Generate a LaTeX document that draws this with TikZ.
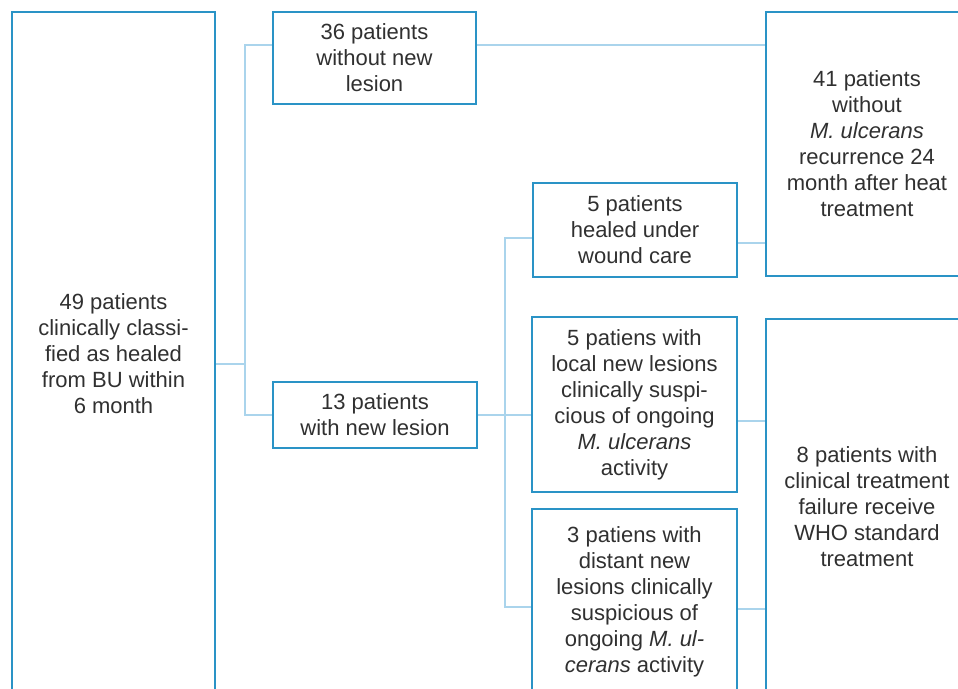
\documentclass[tikz,border=0pt]{standalone}
\usepackage{fontspec}
\setmainfont{Liberation Sans}
\definecolor{boxblue}{HTML}{2A93C6}
\definecolor{connblue}{HTML}{AAD4EC}
\definecolor{txt}{HTML}{303030}
\begin{document}
\begin{tikzpicture}[x=1pt,y=-1pt,
  box/.style={draw=boxblue, line width=2.6pt, inner sep=0pt, align=center,
    text=txt, font=\fontsize{22}{26}\selectfont},
  conn/.style={draw=connblue, line width=1.3pt}]
\useasboundingbox (0,0) rectangle (958,688);
\clip (0,0) rectangle (958,688);
\node[box, minimum width=203pt, minimum height=683pt] (L) at (113.5,353.5)
  {49 patients\\clinically classi-\\fied as healed\\from BU within\\6 month};
\node[box, minimum width=203pt, minimum height=92pt] (A) at (374.5,58)
  {36 patients\\without new\\lesion};
\node[box, minimum width=204pt, minimum height=66pt] (B) at (375,415)
  {13 patients\\with new lesion};
\node[box, minimum width=204pt, minimum height=94pt] (H) at (635,230)
  {5 patients\\healed under\\wound care};
\node[box, minimum width=205pt, minimum height=175pt] (Lc) at (634.5,404.5)
  {5 patiens with\\local new lesions\\clinically suspi-\\cious of ongoing\\\textit{M. ulcerans}\\activity};
\node[box, minimum width=205pt, minimum height=186pt] (D) at (634.5,602)
  {3 patiens with\\distant new\\lesions clinically\\suspicious of\\ongoing \textit{M. ul-}\\\textit{cerans} activity};
\node[box, minimum width=202pt, minimum height=264pt] (R1) at (867,144)
  {41 patients\\without\\\textit{M. ulcerans}\\recurrence 24\\month after heat\\treatment};
\node[box, minimum width=202pt, minimum height=376pt] (R2) at (867,507)
  {8 patients with\\clinical treatment\\failure receive\\WHO standard\\treatment};
% junctions
\coordinate (j1) at (245,364);
\coordinate (j1t) at (245,45);
\coordinate (j2) at (505,415);
\coordinate (j2t) at (505,238);
\coordinate (j2b) at (505,607);
\coordinate (yH) at (0,243);
\coordinate (yLc) at (0,421);
\coordinate (yD) at (0,609);
% connectors
\draw[conn] (L.east |- j1) -- (j1);
\draw[conn] (A.west |- j1t) -- (j1t) -- (j1) |- (B.west);
\draw[conn] (A.east |- j1t) -- (R1.west |- j1t);
\draw[conn] (B.east) -- (j2);
\draw[conn] (H.west |- j2t) -- (j2t) -- (j2b) -- (D.west |- j2b);
\draw[conn] (j2) -- (Lc.west |- j2);
\draw[conn] (H.east |- yH) -- (R1.west |- yH);
\draw[conn] (Lc.east |- yLc) -- (R2.west |- yLc);
\draw[conn] (D.east |- yD) -- (R2.west |- yD);
\end{tikzpicture}
\end{document}
